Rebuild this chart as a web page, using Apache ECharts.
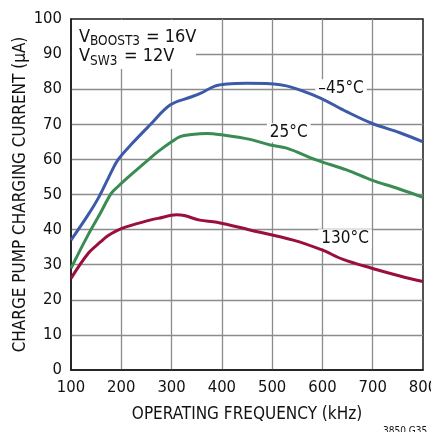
<!DOCTYPE html>
<html>
<head>
<meta charset="utf-8">
<script src="https://cdn.jsdelivr.net/npm/echarts@6/dist/echarts.min.js"></script>
<style>
  html, body { margin: 0; padding: 0; background: #fff; }
  #chart { width: 431px; height: 432px; }
</style>
</head>
<body>
<div id="chart"></div>
<script>
// ---- data ----
const xTicks = [100, 200, 300, 400, 500, 600, 700, 800];
const yTicks = [0, 10, 20, 30, 40, 50, 60, 70, 80, 90, 100];

const seriesNames = ['–45°C', '25°C', '130°C'];

const freqM45 = [100, 134, 154, 174, 193, 220, 257, 297, 337, 357, 386, 410, 450, 516, 589, 648, 698, 754, 800];
const curM45  = [37.0, 44.2, 48.9, 54.6, 59.8, 64.3, 69.8, 75.5, 77.7, 78.8, 80.9, 81.5, 81.7, 81.3, 77.9, 73.6, 70.3, 67.6, 65.0];

const freq25 = [100, 134, 158, 180, 193, 220, 257, 273, 300, 317, 340, 370, 400, 456, 496, 529, 589, 648, 698, 750, 800];
const cur25  = [29.0, 38.5, 44.6, 50.3, 52.2, 55.7, 60.3, 62.2, 65.0, 66.5, 67.1, 67.4, 67.0, 65.7, 64.1, 63.2, 59.8, 57.0, 54.1, 51.7, 49.2];

const freq130 = [100, 134, 158, 174, 200, 257, 273, 310, 325, 356, 390, 456, 542, 599, 641, 698, 754, 800];
const cur130  = [26.1, 33.2, 36.4, 38.3, 40.3, 42.7, 43.2, 44.2, 44.0, 42.7, 42.1, 39.9, 37.0, 34.2, 31.5, 29.0, 26.8, 25.2];

// label anchor points (data coords)
const labelFreq = [637, 533, 645];
const labelCur  = [80.1, 67.6, 37.4];

// ---- styling ----
const FONT = "'DejaVu Sans Condensed', 'Liberation Sans Narrow', sans-serif";
const colors = ['#3c5aa8', '#3a8c52', '#9a0f3c'];

function pairs(xs, ys) { return xs.map((x, i) => [x, ys[i]]); }
const seriesData = [pairs(freqM45, curM45), pairs(freq25, cur25), pairs(freq130, cur130)];

const chart = echarts.init(document.getElementById('chart'));

const option = {
  animation: false,
  backgroundColor: '#fff',
  textStyle: { fontFamily: FONT },
  grid: {
    left: 71, right: 8, top: 19, bottom: 62,
    containLabel: false, outerBoundsMode: 'none',
    show: true, borderColor: '#1a1a1a', borderWidth: 1.5, backgroundColor: 'transparent'
  },
  xAxis: {
    type: 'value', min: xTicks[0], max: xTicks[xTicks.length - 1], interval: 100,
    name: 'OPERATING FREQUENCY (kHz)', nameLocation: 'middle', nameGap: 36, nameMoveOverlap: false,
    nameTextStyle: { fontFamily: FONT, fontSize: 17, color: '#111' },
    axisLine: { show: true, lineStyle: { color: '#1a1a1a', width: 1.5 } },
    axisTick: { show: false },
    axisLabel: { fontFamily: FONT, fontSize: 16.5, color: '#111', margin: 9, showMaxLabel: true, showMinLabel: true },
    splitLine: { show: true, showMinLine: false, showMaxLine: false, lineStyle: { color: '#8c8c8c', width: 1.3 } }
  },
  yAxis: {
    type: 'value', min: yTicks[0], max: yTicks[yTicks.length - 1], interval: 10,
    name: 'CHARGE PUMP CHARGING CURRENT (µA)', nameLocation: 'middle', nameGap: 42, nameMoveOverlap: false,
    nameTextStyle: { fontFamily: FONT, fontSize: 17, color: '#111' },
    axisLine: { show: true, lineStyle: { color: '#1a1a1a', width: 1.5 } },
    axisTick: { show: false },
    axisLabel: { fontFamily: FONT, fontSize: 16.5, color: '#111', margin: 9 },
    splitLine: { show: true, showMinLine: false, showMaxLine: false, lineStyle: { color: '#8c8c8c', width: 1.3 } }
  },
  series: seriesData.map((d, i) => ({
    name: seriesNames[i],
    type: 'line',
    data: d,
    smooth: 0.35,
    showSymbol: false,
    symbol: 'none',
    lineStyle: { color: colors[i], width: 3 },
    z: 3
  }))
};
chart.setOption(option);

// labels placed from data coordinates (white box hides grid lines, curves stay on top)
const labelGraphics = seriesNames.map((t, i) => {
  const p = chart.convertToPixel({ gridIndex: 0 }, [labelFreq[i], labelCur[i]]);
  return {
    type: 'text', x: p[0], y: p[1], z: 2,
    style: {
      text: t, font: '17px ' + FONT, fill: '#111',
      align: 'center', verticalAlign: 'middle',
      backgroundColor: '#fff', padding: [2, 3, 0, 3]
    }
  };
});

const annot = [
  { type: 'rect', shape: { x: 72, y: 20, width: 124, height: 49 }, style: { fill: '#fff' }, z: 5 },
  { type: 'text', x: 79, y: 37, z: 10, style: { text: 'V', font: '18px ' + FONT, fill: '#111', verticalAlign: 'middle' } },
  { type: 'text', x: 90, y: 41.5, z: 10, style: { text: 'BOOST3', font: '13.5px ' + FONT, fill: '#111', verticalAlign: 'middle' } },
  { type: 'text', x: 146, y: 37, z: 10, style: { text: '= 16V', font: '18px ' + FONT, fill: '#111', verticalAlign: 'middle' } },
  { type: 'text', x: 79, y: 56.5, z: 10, style: { text: 'V', font: '18px ' + FONT, fill: '#111', verticalAlign: 'middle' } },
  { type: 'text', x: 90, y: 61, z: 10, style: { text: 'SW3', font: '13.5px ' + FONT, fill: '#111', verticalAlign: 'middle' } },
  { type: 'text', x: 124, y: 56.5, z: 10, style: { text: '= 12V', font: '18px ' + FONT, fill: '#111', verticalAlign: 'middle' } },
  { type: 'text', x: 383, y: 426, z: 10, style: { text: '3850 G35', font: '10px ' + FONT, fill: '#111', verticalAlign: 'top' } }
];

chart.setOption({ graphic: labelGraphics.concat(annot) });
</script>
</body>
</html>
